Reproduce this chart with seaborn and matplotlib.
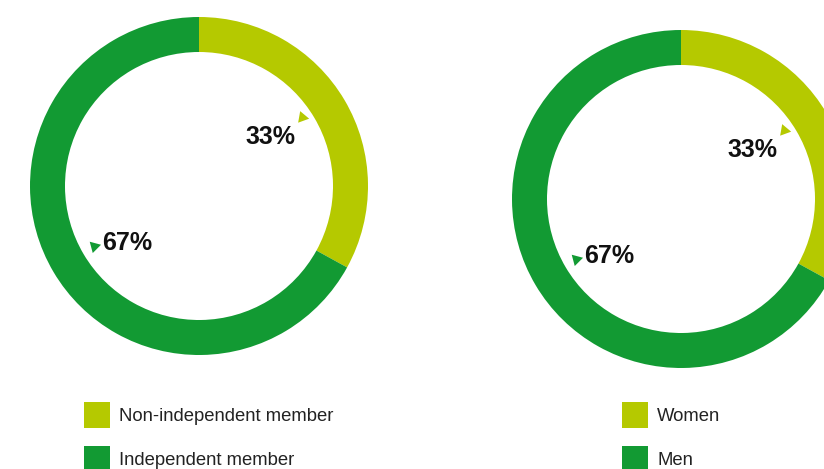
import numpy as np
import matplotlib
matplotlib.use("Agg")
import matplotlib.pyplot as plt
from matplotlib.patches import Patch
import seaborn as sns

# ---- data ----
board_labels = ["Non-independent member", "Independent member"]
board_values = [33, 67]
gender_labels = ["Women", "Men"]
gender_values = [33, 67]
pct_text = ["33%", "67%"]

LIME = "#B5C900"
GREEN = "#129A33"
colors = [LIME, GREEN]

sns.set_theme(style="white")
plt.rcParams["font.family"] = ["Liberation Sans", "DejaVu Sans"]

W, H = 824, 469
fig = plt.figure(figsize=(W / 100, H / 100), dpi=100)
ax = fig.add_axes([0, 0, 1, 1])
ax.set_xlim(0, W)
ax.set_ylim(0, H)
ax.set_aspect("equal")
ax.axis("off")

R, RING = 169, 35
LFS = 13.3

def donut(cx, cy_top, values, labels, legend_x):
    cy = H - cy_top
    ax.pie(values, colors=colors, startangle=90, counterclock=False,
           radius=R, center=(cx, cy), frame=True,
           wedgeprops=dict(width=RING, linewidth=0))
    total = sum(values)
    start = 0.0
    for i, v in enumerate(values):
        mid = start + v / total * 360 / 2
        start += v / total * 360
        ang = np.deg2rad(mid - 6)
        tx = cx + 89 * np.sin(ang)
        ty = cy + 89 * np.cos(ang) - 4
        ax.text(tx, ty, pct_text[i], ha="center", va="center",
                fontsize=18, fontweight="bold", color="#111111")
        if i == 0:
            ax.scatter([tx + 32], [ty + 20], marker=(3, 0, 20), s=95,
                       color=colors[i], linewidths=0, zorder=5)
        else:
            ax.scatter([tx - 34], [ty - 3], marker=(3, 0, 165), s=95,
                       color=colors[i], linewidths=0, zorder=5)
    handles = [Patch(facecolor=c, edgecolor="none") for c in colors]
    ax.legend(handles, labels, loc="upper left",
              bbox_to_anchor=(legend_x, H - 402), bbox_transform=ax.transData,
              frameon=False, fontsize=LFS, handlelength=1.41, handleheight=1.79,
              handletextpad=0.49, labelspacing=0.97, borderaxespad=0,
              borderpad=0, labelcolor="#222222")

donut(199, 186, board_values, board_labels, 84)
leg1 = ax.get_legend()
ax.add_artist(leg1)
donut(681, 199, gender_values, gender_labels, 622)

ax.set_xlim(0, W)
ax.set_ylim(0, H)
fig.savefig("out.png", dpi=100, facecolor="white")
